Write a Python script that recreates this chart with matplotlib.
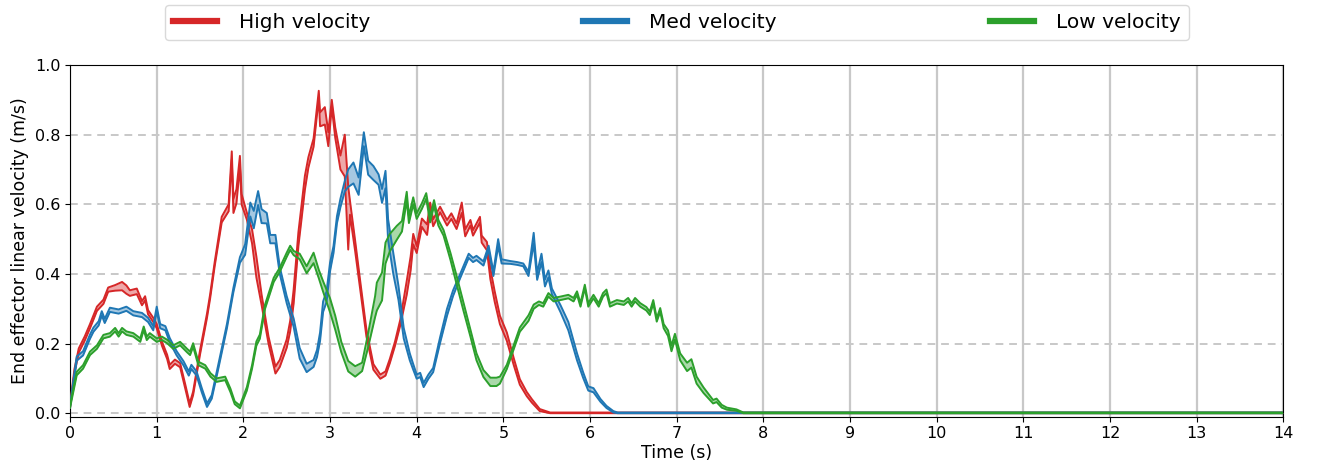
import numpy as np
import matplotlib
matplotlib.use("Agg")
import matplotlib.pyplot as plt

# ---------------- data ----------------
high_t = [0.00, 0.05, 0.10, 0.17, 0.23, 0.31, 0.385, 0.44, 0.52, 0.60,
          0.65, 0.69, 0.77, 0.83, 0.866, 0.90, 0.96, 1.00, 1.06, 1.12,
          1.15, 1.21, 1.27, 1.33, 1.38, 1.42, 1.50, 1.58, 1.616, 1.67,
          1.75, 1.83, 1.866, 1.885, 1.92, 1.96, 1.98, 2.04, 2.10, 2.15,
          2.21, 2.29, 2.37, 2.42, 2.50, 2.54, 2.58, 2.635, 2.67, 2.71,
          2.75, 2.81, 2.87, 2.885, 2.94, 2.98, 3.02, 3.06, 3.12, 3.17,
          3.21, 3.23, 3.29, 3.35, 3.42, 3.50, 3.58, 3.64, 3.69, 3.75,
          3.81, 3.885, 3.93, 3.96, 4.00, 4.06, 4.12, 4.155, 4.19, 4.27,
          4.35, 4.40, 4.46, 4.52, 4.56, 4.62, 4.65, 4.73, 4.75, 4.81,
          4.85, 4.90, 4.96, 5.04, 5.12, 5.19, 5.27, 5.33, 5.42, 5.54,
          14.0]
high_v = [0.02, 0.12, 0.18, 0.215, 0.25, 0.30, 0.32, 0.355, 0.36, 0.365,
          0.355, 0.345, 0.35, 0.316, 0.33, 0.29, 0.268, 0.25, 0.20, 0.162,
          0.133, 0.148, 0.138, 0.076, 0.023, 0.057, 0.175, 0.28, 0.335, 0.43,
          0.556, 0.59, 0.74, 0.595, 0.623, 0.724, 0.614, 0.566, 0.508, 0.42,
          0.326, 0.21, 0.124, 0.143, 0.20, 0.25, 0.335, 0.50, 0.575, 0.662,
          0.72, 0.777, 0.916, 0.844, 0.854, 0.787, 0.89, 0.806, 0.72, 0.74,
          0.56, 0.59, 0.48, 0.364, 0.23, 0.133, 0.105, 0.114, 0.15, 0.20,
          0.26, 0.36, 0.43, 0.50, 0.47, 0.547, 0.527, 0.595, 0.547, 0.585,
          0.547, 0.566, 0.537, 0.59, 0.518, 0.547, 0.518, 0.556, 0.50, 0.48,
          0.40, 0.335, 0.268, 0.22, 0.148, 0.09, 0.055, 0.035, 0.009, 0.0,
          0.0]
high_s = [0.004, 0.006, 0.006, 0.006, 0.006, 0.006, 0.006, 0.006, 0.008, 0.012,
          0.012, 0.008, 0.008, 0.006, 0.006, 0.006, 0.006, 0.006, 0.006, 0.006,
          0.006, 0.006, 0.006, 0.006, 0.005, 0.005, 0.006, 0.006, 0.006, 0.006,
          0.008, 0.010, 0.012, 0.020, 0.020, 0.015, 0.015, 0.010, 0.020, 0.030,
          0.015, 0.010, 0.010, 0.010, 0.012, 0.015, 0.020, 0.020, 0.020, 0.020,
          0.015, 0.012, 0.010, 0.020, 0.025, 0.020, 0.010, 0.015, 0.020, 0.060,
          0.090, 0.020, 0.015, 0.012, 0.010, 0.008, 0.006, 0.006, 0.006, 0.006,
          0.008, 0.020, 0.020, 0.015, 0.010, 0.012, 0.015, 0.010, 0.010, 0.008,
          0.008, 0.008, 0.008, 0.015, 0.010, 0.008, 0.008, 0.008, 0.010, 0.012,
          0.015, 0.015, 0.012, 0.012, 0.010, 0.008, 0.006, 0.005, 0.003, 0.002,
          0.002]

med_t = [0.00, 0.077, 0.15, 0.23, 0.27, 0.33, 0.366, 0.40, 0.46, 0.56,
         0.65, 0.73, 0.83, 0.90, 0.96, 1.00, 1.04, 1.10, 1.15, 1.23,
         1.31, 1.37, 1.40, 1.46, 1.52, 1.58, 1.635, 1.71, 1.81, 1.885,
         1.96, 1.98, 2.02, 2.08, 2.12, 2.17, 2.21, 2.27, 2.31, 2.37,
         2.42, 2.50, 2.58, 2.65, 2.73, 2.81, 2.85, 2.885, 2.92, 2.96,
         3.00, 3.04, 3.08, 3.12, 3.17, 3.21, 3.27, 3.33, 3.39, 3.44,
         3.50, 3.56, 3.60, 3.64, 3.67, 3.73, 3.79, 3.85, 3.92, 3.96,
         4.00, 4.04, 4.08, 4.135, 4.19, 4.27, 4.35, 4.42, 4.50, 4.60,
         4.65, 4.69, 4.77, 4.83, 4.885, 4.94, 4.98, 5.08, 5.16, 5.23,
         5.29, 5.35, 5.39, 5.44, 5.48, 5.52, 5.56, 5.66, 5.75, 5.85,
         5.92, 5.98, 6.04, 6.12, 6.19, 6.27, 6.32, 14.0]
med_v = [0.02, 0.157, 0.172, 0.22, 0.24, 0.258, 0.287, 0.265, 0.297, 0.292,
         0.30, 0.287, 0.282, 0.268, 0.244, 0.30, 0.25, 0.244, 0.21, 0.172,
         0.143, 0.114, 0.133, 0.114, 0.066, 0.023, 0.047, 0.133, 0.25, 0.354,
         0.44, 0.45, 0.47, 0.585, 0.556, 0.618, 0.566, 0.56, 0.50, 0.50,
         0.41, 0.326, 0.26, 0.172, 0.13, 0.143, 0.172, 0.22, 0.306, 0.335,
         0.42, 0.47, 0.556, 0.604, 0.652, 0.675, 0.69, 0.652, 0.787, 0.705,
         0.69, 0.671, 0.624, 0.671, 0.527, 0.43, 0.345, 0.23, 0.162, 0.133,
         0.105, 0.11, 0.081, 0.105, 0.124, 0.21, 0.29, 0.345, 0.393, 0.452,
         0.44, 0.446, 0.43, 0.475, 0.40, 0.49, 0.436, 0.433, 0.43, 0.426,
         0.40, 0.503, 0.393, 0.446, 0.374, 0.40, 0.35, 0.30, 0.25, 0.162,
         0.11, 0.071, 0.066, 0.037, 0.018, 0.004, 0.0, 0.0]
med_s = [0.004, 0.006, 0.006, 0.006, 0.006, 0.006, 0.006, 0.006, 0.006, 0.006,
         0.006, 0.006, 0.006, 0.006, 0.006, 0.006, 0.006, 0.006, 0.006, 0.006,
         0.006, 0.006, 0.006, 0.006, 0.006, 0.005, 0.005, 0.006, 0.006, 0.006,
         0.008, 0.010, 0.015, 0.020, 0.025, 0.020, 0.020, 0.015, 0.012, 0.012,
         0.010, 0.010, 0.012, 0.015, 0.012, 0.010, 0.010, 0.012, 0.015, 0.015,
         0.012, 0.010, 0.010, 0.012, 0.015, 0.025, 0.030, 0.025, 0.020, 0.020,
         0.020, 0.015, 0.020, 0.025, 0.030, 0.030, 0.020, 0.015, 0.010, 0.008,
         0.006, 0.006, 0.006, 0.006, 0.006, 0.008, 0.010, 0.008, 0.006, 0.006,
         0.006, 0.006, 0.006, 0.006, 0.006, 0.010, 0.006, 0.004, 0.004, 0.004,
         0.006, 0.015, 0.010, 0.012, 0.010, 0.010, 0.008, 0.010, 0.012, 0.010,
         0.008, 0.006, 0.006, 0.004, 0.003, 0.002, 0.002, 0.002]

low_t = [0.00, 0.077, 0.15, 0.23, 0.31, 0.385, 0.46, 0.52, 0.56, 0.60,
         0.65, 0.73, 0.81, 0.85, 0.885, 0.92, 1.00, 1.06, 1.12, 1.19,
         1.27, 1.35, 1.385, 1.42, 1.48, 1.56, 1.62, 1.69, 1.79, 1.85,
         1.90, 1.96, 2.04, 2.10, 2.15, 2.19, 2.25, 2.35, 2.42, 2.50,
         2.54, 2.58, 2.65, 2.73, 2.81, 2.87, 2.92, 3.00, 3.06, 3.13,
         3.21, 3.29, 3.37, 3.44, 3.52, 3.54, 3.60, 3.64, 3.69, 3.77,
         3.83, 3.885, 3.91, 3.96, 4.00, 4.06, 4.11, 4.155, 4.20, 4.25,
         4.31, 4.39, 4.46, 4.54, 4.62, 4.69, 4.77, 4.85, 4.92, 4.96,
         5.04, 5.12, 5.19, 5.29, 5.35, 5.41, 5.46, 5.52, 5.58, 5.66,
         5.75, 5.81, 5.85, 5.89, 5.94, 5.98, 6.04, 6.10, 6.15, 6.19,
         6.23, 6.31, 6.39, 6.44, 6.48, 6.52, 6.58, 6.65, 6.69, 6.73,
         6.77, 6.81, 6.85, 6.90, 6.94, 6.98, 7.04, 7.12, 7.17, 7.23,
         7.31, 7.39, 7.42, 7.46, 7.52, 7.58, 7.69, 7.77, 14.0]
low_v = [0.02, 0.114, 0.133, 0.172, 0.19, 0.22, 0.225, 0.24, 0.225, 0.24,
         0.23, 0.225, 0.21, 0.244, 0.215, 0.225, 0.21, 0.215, 0.206, 0.19,
         0.20, 0.18, 0.172, 0.196, 0.143, 0.133, 0.11, 0.095, 0.10, 0.066,
         0.03, 0.018, 0.07, 0.133, 0.20, 0.22, 0.306, 0.383, 0.412, 0.455,
         0.475, 0.46, 0.45, 0.412, 0.446, 0.40, 0.364, 0.31, 0.26, 0.19,
         0.135, 0.12, 0.133, 0.21, 0.306, 0.335, 0.364, 0.46, 0.49, 0.518,
         0.537, 0.624, 0.556, 0.61, 0.566, 0.595, 0.624, 0.556, 0.604, 0.547,
         0.518, 0.45, 0.383, 0.306, 0.23, 0.162, 0.114, 0.09, 0.09, 0.095,
         0.133, 0.19, 0.24, 0.273, 0.306, 0.316, 0.311, 0.34, 0.326, 0.33,
         0.335, 0.326, 0.345, 0.311, 0.364, 0.311, 0.335, 0.311, 0.34, 0.35,
         0.311, 0.32, 0.316, 0.326, 0.311, 0.326, 0.311, 0.30, 0.287, 0.32,
         0.268, 0.297, 0.25, 0.23, 0.186, 0.22, 0.162, 0.133, 0.143, 0.095,
         0.066, 0.042, 0.033, 0.037, 0.02, 0.013, 0.009, 0.0, 0.0]
low_s = [0.004, 0.005, 0.005, 0.005, 0.005, 0.005, 0.005, 0.005, 0.005, 0.005,
         0.005, 0.005, 0.005, 0.005, 0.005, 0.005, 0.005, 0.005, 0.005, 0.005,
         0.005, 0.005, 0.005, 0.005, 0.005, 0.005, 0.005, 0.005, 0.005, 0.005,
         0.004, 0.004, 0.005, 0.005, 0.006, 0.006, 0.006, 0.006, 0.006, 0.006,
         0.006, 0.006, 0.008, 0.010, 0.015, 0.012, 0.015, 0.020, 0.020, 0.015,
         0.015, 0.015, 0.012, 0.020, 0.030, 0.040, 0.040, 0.030, 0.025, 0.020,
         0.015, 0.012, 0.010, 0.010, 0.008, 0.008, 0.008, 0.008, 0.008, 0.008,
         0.008, 0.010, 0.012, 0.012, 0.010, 0.010, 0.010, 0.012, 0.012, 0.010,
         0.006, 0.006, 0.006, 0.008, 0.006, 0.005, 0.005, 0.005, 0.005, 0.005,
         0.005, 0.005, 0.005, 0.005, 0.005, 0.005, 0.005, 0.005, 0.005, 0.005,
         0.005, 0.005, 0.005, 0.005, 0.005, 0.005, 0.005, 0.005, 0.005, 0.005,
         0.005, 0.005, 0.006, 0.008, 0.008, 0.008, 0.010, 0.012, 0.012, 0.010,
         0.008, 0.006, 0.005, 0.005, 0.004, 0.003, 0.002, 0.002, 0.002]

labels = ["High velocity", "Med velocity", "Low velocity"]
colors = ["#d62728", "#1f77b4", "#2ca02c"]
x_ticks = list(range(0, 15))
y_ticks = [0.0, 0.2, 0.4, 0.6, 0.8, 1.0]

# ---------------- figure ----------------
fig = plt.figure(figsize=(13.17, 4.66), dpi=100)
ax = fig.add_axes([0.0532, 0.1058, 0.9212, 0.7547])

series = [(high_t, high_v, high_s), (med_t, med_v, med_s), (low_t, low_v, low_s)]
handles = []
for (t, v, s), lab, c in zip(series, labels, colors):
    t = np.asarray(t); v = np.asarray(v); s = np.asarray(s)
    lo = np.clip(v - s, 0, None)
    hi = v + s
    ax.fill_between(t, lo, hi, color=c, alpha=0.4, lw=0, zorder=3)
    ax.plot(t, lo, color=c, lw=1.4, zorder=4)
    ax.plot(t, hi, color=c, lw=1.4, zorder=4)
    h, = ax.plot([], [], color=c, lw=4.5, label=lab)
    handles.append(h)

ax.set_xlim(0, 14)
ax.set_ylim(-0.01, 1.0)
ax.set_xticks(x_ticks)
ax.set_yticks(y_ticks)
ax.set_yticklabels([f"{y:.1f}" for y in y_ticks])
ax.tick_params(labelsize=11.5)
ax.xaxis.grid(True, color="#c8c8c8", lw=1.6, zorder=0)
ax.yaxis.grid(True, color="#c8c8c8", lw=1.4, ls=(0, (4, 3)), zorder=0)
ax.set_axisbelow(True)
ax.set_xlabel("Time (s)", fontsize=12.5, labelpad=2)
ax.set_ylabel("End effector linear velocity (m/s)", fontsize=12.5)

leg = ax.legend(handles=handles, loc="lower left",
                bbox_to_anchor=(0.078, 1.07, 0.844, 0.1), mode="expand",
                ncol=3, fontsize=14.5, handlelength=2.2, handletextpad=1.1,
                frameon=True, borderaxespad=0)
leg.get_frame().set_edgecolor("#d0d0d0")

fig.savefig("out.png", dpi=100)
